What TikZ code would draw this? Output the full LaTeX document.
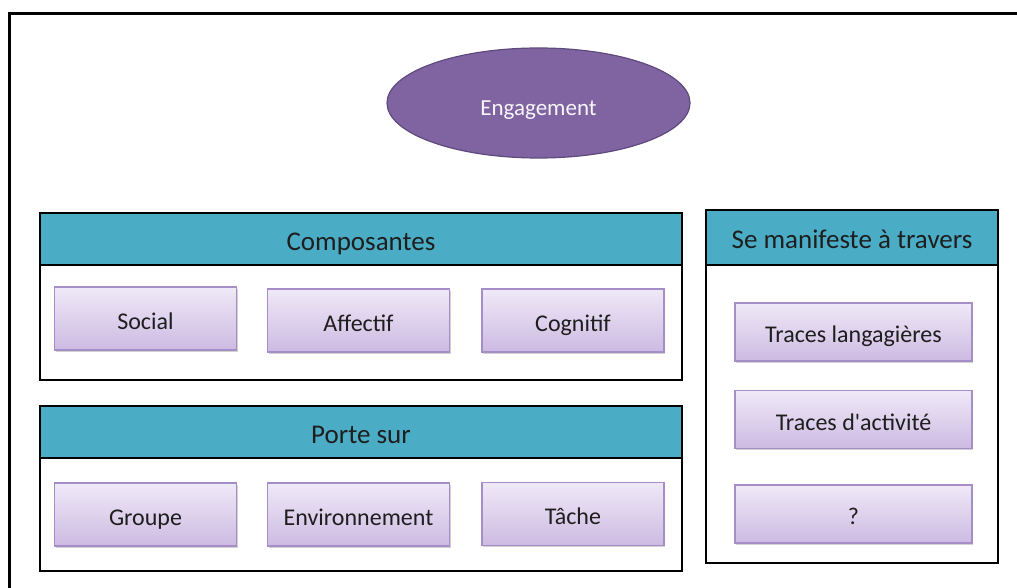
\documentclass[tikz,border=0pt]{standalone}
\usepackage{fontspec}
\setmainfont{Carlito}
\usetikzlibrary{shapes.geometric,shadows}
\definecolor{teal}{HTML}{4BACC6}
\definecolor{lavtop}{HTML}{EFE9F7}
\definecolor{lavbot}{HTML}{CDBAE2}
\definecolor{lavline}{HTML}{A58DC7}
\definecolor{purp}{HTML}{8064A2}
\definecolor{purpdark}{HTML}{5E4A7C}
\definecolor{txt}{HTML}{1E1E1E}
\tikzset{
  hdr/.style={draw=black, line width=2pt, fill=teal, inner sep=0pt, text=txt,
    font=\fontsize{27}{32}\selectfont, text height=23pt, text depth=1pt},
  body/.style={draw=black, line width=2pt, fill=white, inner sep=0pt},
  item/.style={draw=lavline, line width=1.2pt, top color=lavtop, bottom color=lavbot,
    minimum width=182pt, minimum height=63pt, inner sep=0pt, text=txt,
    font=\fontsize{24}{28}\selectfont, text height=22pt, text depth=1pt,
    drop shadow={shadow xshift=1pt, shadow yshift=-1.5pt, fill=black!35, opacity=0.5}},
  ritem/.style={item, minimum width=237pt, minimum height=58pt},
}
\begin{document}
\begin{tikzpicture}[x=1pt,y=-1pt]
\useasboundingbox (0,0) rectangle (1017,588);
\coordinate (fa) at (9.5,590);
\coordinate (fb) at (9.5,13.5);
\coordinate (fc) at (1019,13.5);
\draw[line width=3pt] (fa) -- (fb) -- (fc);

\node[ellipse, draw=purpdark, line width=1.2pt, fill=purp, minimum width=303pt,
  minimum height=110pt, inner sep=0pt, text=white!94!purp,
  font=\fontsize{23}{28}\selectfont, text height=26pt, text depth=1pt] (eng) at (538.5,103) {Engagement};

% Composantes
\node[body, minimum width=642pt, minimum height=115pt] (compb) at (361,322.5) {};
\node[hdr, minimum width=642pt, minimum height=52pt] (comph) at (361,239) {Composantes};
\node[item] (social) at (145.5,318.5) {Social};
\node[item] (affectif) at (358.5,320.5) {Affectif};
\node[item] (cognitif) at (573,320.5) {Cognitif};

% Porte sur
\node[body, minimum width=642pt, minimum height=113pt] (porteb) at (361,514.5) {};
\node[hdr, minimum width=642pt, minimum height=52pt] (porteh) at (361,432) {Porte sur};
\node[item] (groupe) at (145.5,514.5) {Groupe};
\node[item] (env) at (358.5,514.5) {Environnement};
\node[item] (tache) at (573,514) {Tâche};

% Se manifeste
\node[body, minimum width=292pt, minimum height=298pt] (manb) at (852,414) {};
\node[hdr, minimum width=292pt, minimum height=55pt] (manh) at (852,237.5) {Se manifeste à travers};
\node[ritem] (lang) at (853.5,332) {Traces langagières};
\node[ritem] (act) at (853.5,419.5) {Traces d\textquotesingle activité};
\node[ritem] (quest) at (853.5,514) {?};
\end{tikzpicture}
\end{document}
